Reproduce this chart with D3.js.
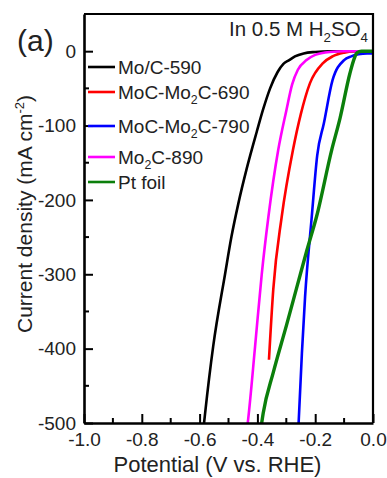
<!DOCTYPE html>
<html>
<head>
<meta charset="utf-8">
<script src="https://cdnjs.cloudflare.com/ajax/libs/d3/7.8.5/d3.min.js"></script>
<style>
  body { margin: 0; background: #fff; }
  svg text { font-family: Arial, "Liberation Sans", sans-serif; fill: #222; }
</style>
</head>
<body>
<div id="chart"></div>
<script>
// legend names, "_2" marks a subscript 2
const categories = ["Mo/C-590", "MoC-Mo_2C-690", "MoC-Mo_2C-790", "Mo_2C-890", "Pt foil"];
const colors = ["#000000", "#ff0000", "#0000ff", "#ff00ff", "#0b7f0b"];

// potential (V vs. RHE) and current density (mA cm-2)
const v590 = [0, -0.15, -0.2, -0.24, -0.27, -0.29, -0.31, -0.33, -0.356, -0.38, -0.402, -0.437, -0.466, -0.49, -0.512, -0.553, -0.581, -0.586];
const j590 = [0, 0, -1, -3, -7, -12, -17, -28, -50, -78, -108, -158, -205, -250, -300, -397, -487, -505];

const v690 = [0, -0.06, -0.1, -0.14, -0.173, -0.218, -0.25, -0.277, -0.316, -0.345, -0.36];
const j690 = [0, 0, -2, -7, -16, -43, -85, -133, -223, -320, -415];

const v790 = [0, -0.02, -0.05, -0.075, -0.1, -0.14, -0.17, -0.193, -0.212, -0.235, -0.246, -0.258];
const j790 = [-3, -3, -4, -7, -12, -39, -97, -140, -223, -330, -406, -505];

const v890 = [0, -0.1, -0.15, -0.2, -0.23, -0.26, -0.28, -0.3, -0.328, -0.362, -0.385, -0.408, -0.432, -0.435];
const j890 = [0, 0, -1, -5, -12, -25, -45, -80, -133, -223, -300, -397, -495, -505];

const vPt = [0, -0.04, -0.055, -0.065, -0.08, -0.114, -0.143, -0.195, -0.229, -0.264, -0.299, -0.345, -0.38, -0.387];
const jPt = [0, 0, -2, -10, -30, -90, -133, -222, -268, -318, -368, -432, -487, -505];

const xTicks = [-1.0, -0.8, -0.6, -0.4, -0.2, 0.0];
const xMinor = [-0.9, -0.7, -0.5, -0.3, -0.1];
const yTicks = [-500, -400, -300, -200, -100, 0];
const yMinor = [-450, -350, -250, -150, -50];

const seriesV = [v590, v690, v790, v890, vPt];
const seriesJ = [j590, j690, j790, j890, jPt];

const svgWidth = 387, svgHeight = 478;
const margin = { top: 14, right: 14, bottom: 55, left: 84 };
const width = svgWidth - margin.left - margin.right;
const height = svgHeight - margin.top - margin.bottom;

const svg = d3.select("#chart").append("svg")
  .attr("width", svgWidth)
  .attr("height", svgHeight);

const x = d3.scaleLinear().domain([-1, 0]).range([0, width]);
const y = d3.scaleLinear().domain([-500, 50]).range([height, 0]);

const chart = svg.append("g")
  .attr("transform", "translate(" + margin.left + "," + margin.top + ")");

chart.append("clipPath").attr("id", "plotclip")
  .append("rect").attr("width", width).attr("height", height);

// curves
const line = d3.line()
  .x(d => x(d[0]))
  .y(d => y(d[1]))
  .curve(d3.curveMonotoneX);

const curves = chart.append("g").attr("clip-path", "url(#plotclip)");
seriesV.forEach((vs, i) => {
  const pts = vs.map((v, k) => [v, seriesJ[i][k]]).sort((a, b) => a[0] - b[0]);
  curves.append("path")
    .attr("d", line(pts))
    .attr("fill", "none")
    .attr("stroke", colors[i])
    .attr("stroke-width", i === 4 ? 3.4 : 2.6)
    .attr("stroke-linejoin", "round");
});

// axes (ticks point inward)
const xAxis = chart.append("g")
  .attr("transform", "translate(0," + height + ")")
  .call(d3.axisBottom(x).tickValues(xTicks).tickSizeInner(-9).tickSizeOuter(0)
    .tickPadding(10).tickFormat(d => d.toFixed(1)));
xAxis.append("g").selectAll("line").data(xMinor).enter().append("line")
  .attr("x1", d => x(d)).attr("x2", d => x(d)).attr("y1", 0).attr("y2", -5)
  .attr("stroke", "#000").attr("stroke-width", 2);

const yAxis = chart.append("g")
  .call(d3.axisLeft(y).tickValues(yTicks).tickSizeInner(-9).tickSizeOuter(0)
    .tickPadding(8).tickFormat(d => String(d)));
yAxis.append("g").selectAll("line").data(yMinor).enter().append("line")
  .attr("y1", d => y(d)).attr("y2", d => y(d)).attr("x1", 0).attr("x2", 5)
  .attr("stroke", "#000").attr("stroke-width", 2);

[xAxis, yAxis].forEach(a => {
  a.select(".domain").attr("stroke", "#000").attr("stroke-width", 2.6);
  a.selectAll(".tick line").attr("stroke", "#000").attr("stroke-width", 2);
  a.selectAll(".tick text").attr("font-size", 19).attr("fill", "#222")
    .attr("font-family", "Arial, 'Liberation Sans', sans-serif");
});

// frame top and right
chart.append("path")
  .attr("d", "M0,0H" + width + "V" + height)
  .attr("fill", "none").attr("stroke", "#000").attr("stroke-width", 2.2);

// text with "_2" / "_4" subscripts
function richText(sel, str, size) {
  const parts = str.split(/_(\d)/);
  parts.forEach((p, k) => {
    if (p === "") return;
    if (k % 2 === 1) {
      sel.append("tspan").attr("font-size", size * 0.65).attr("dy", size * 0.28).text(p);
    } else {
      const t = sel.append("tspan").text(p);
      if (k > 0) t.attr("dy", -size * 0.28);
    }
  });
}

// legend
const legendY = [53, 78, 112, 143, 168];
const legend = chart.append("g");
categories.forEach((name, i) => {
  legend.append("line")
    .attr("x1", 4).attr("x2", 31)
    .attr("y1", legendY[i]).attr("y2", legendY[i])
    .attr("stroke", colors[i]).attr("stroke-width", 2.6);
  const t = legend.append("text")
    .attr("x", 34).attr("y", legendY[i] + 6.5)
    .attr("font-size", 19);
  richText(t, name, 19);
});

// annotation
const note = chart.append("text")
  .attr("x", width - 5).attr("y", 22)
  .attr("text-anchor", "end")
  .attr("font-size", 20.5);
richText(note, "In 0.5 M H_2SO_4", 20.5);

svg.append("text")
  .attr("x", 17).attr("y", 51)
  .attr("font-size", 30)
  .text("(a)");

// axis titles
svg.append("text")
  .attr("x", margin.left + width / 2 - 11).attr("y", 472)
  .attr("text-anchor", "middle")
  .attr("font-size", 22)
  .text("Potential (V vs. RHE)");

const yTitle = svg.append("text")
  .attr("transform", "translate(32,214) rotate(-90)")
  .attr("text-anchor", "middle")
  .attr("font-size", 21);
yTitle.append("tspan").text("Current density (mA cm");
yTitle.append("tspan").attr("font-size", 13).attr("dy", -8).text("-2");
yTitle.append("tspan").attr("dy", 8).text(")");
</script>
</body>
</html>
